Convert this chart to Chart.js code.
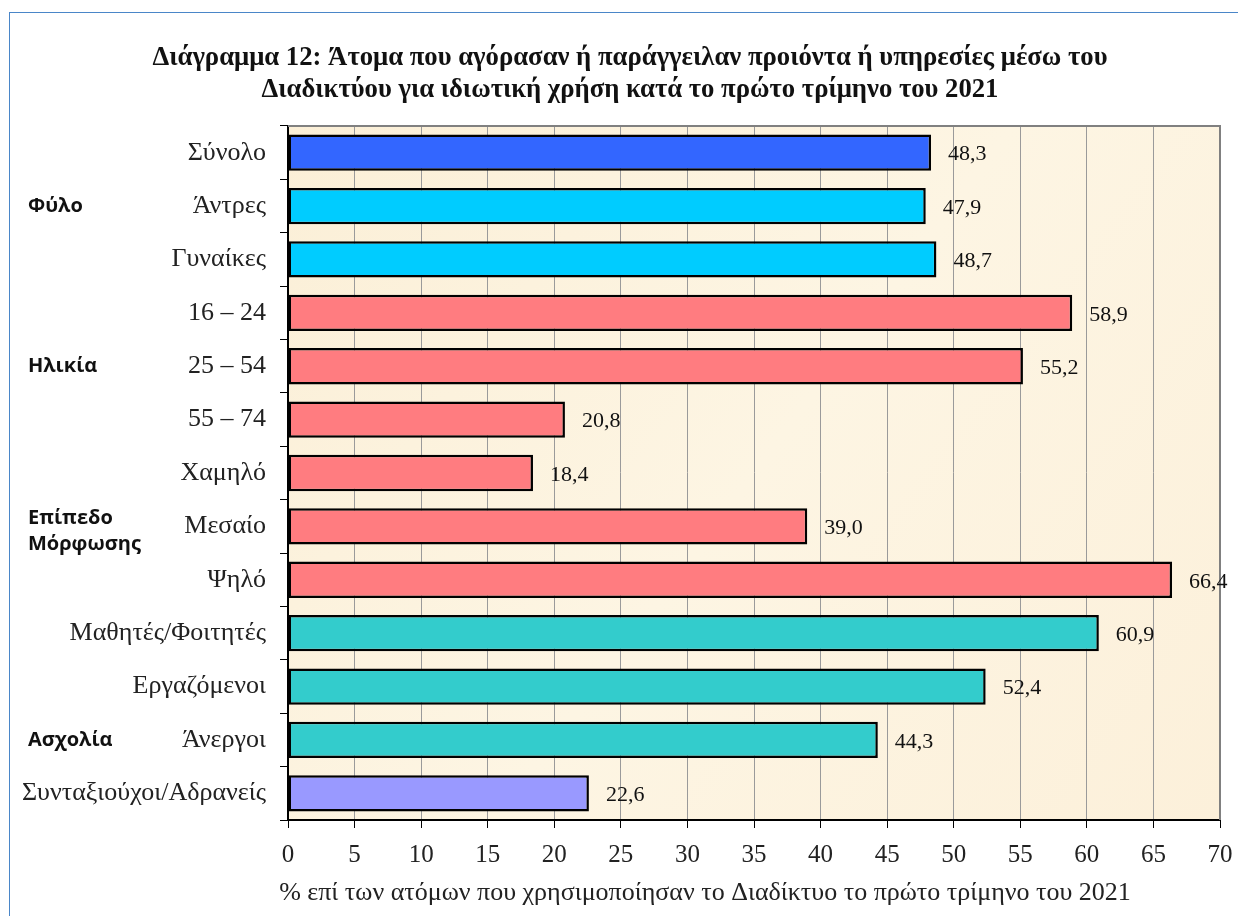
<!DOCTYPE html>
<html>
<head>
<meta charset="utf-8">
<script src="https://cdn.jsdelivr.net/npm/chart.js@4.4.1/dist/chart.umd.min.js"></script>
<style>
  body { margin: 0; background: #fff; overflow: hidden; }
  #frame { position: absolute; left: 9px; top: 12px; width: 1400px; height: 1000px;
           border-left: 1px solid #4a86c8; border-top: 1px solid #4a86c8; }
  #wrap { position: absolute; left: 0; top: 0; width: 1238px; height: 916px; }
</style>
</head>
<body>
<div id="frame"></div>
<div id="wrap"><canvas id="myChart" width="1238" height="916"></canvas></div>
<script>
const categories = ["Σύνολο", "Άντρες", "Γυναίκες", "16 – 24", "25 – 54", "55 – 74",
  "Χαμηλό", "Μεσαίο", "Ψηλό", "Μαθητές/Φοιτητές", "Εργαζόμενοι", "Άνεργοι",
  "Συνταξιούχοι/Αδρανείς"];
const values = [48.3, 47.9, 48.7, 58.9, 55.2, 20.8, 18.4, 39.0, 66.4, 60.9, 52.4, 44.3, 22.6];
const barColors = ["#3366FF", "#00CCFF", "#00CCFF", "#FF7C80", "#FF7C80", "#FF7C80",
  "#FF7C80", "#FF7C80", "#FF7C80", "#33CCCC", "#33CCCC", "#33CCCC", "#9999FF"];
// group labels: text lines and the category they sit beside
const groupNames = [["Φύλο"], ["Ηλικία"], ["Επίπεδο", "Μόρφωσης"], ["Ασχολία"]];
const groupRows = [1, 4, 7, 11];
const xTicks = [0, 5, 10, 15, 20, 25, 30, 35, 40, 45, 50, 55, 60, 65, 70];
const titleLines = ["Διάγραμμα 12: Άτομα που αγόρασαν ή παράγγειλαν προιόντα ή υπηρεσίες μέσω του",
  "Διαδικτύου για ιδιωτική χρήση κατά το πρώτο τρίμηνο του 2021"];
const xTitle = "% επί των ατόμων που χρησιμοποίησαν το Διαδίκτυο το πρώτο τρίμηνο του 2021";

const serif = "'Liberation Serif', 'Times New Roman', serif";

const extras = {
  id: "extras",
  beforeDraw(chart) {
    const { ctx, chartArea: a } = chart;
    ctx.save();
    const g = ctx.createLinearGradient(a.left, a.top, a.right, a.bottom);
    g.addColorStop(0, "#FBEFD7");
    g.addColorStop(0.5, "#FDF5E3");
    g.addColorStop(1, "#FCF0DA");
    ctx.fillStyle = g;
    ctx.fillRect(a.left, a.top, a.right - a.left, a.bottom - a.top);
    ctx.restore();
  },
  afterDraw(chart) {
    const { ctx, chartArea: a } = chart;
    const xs = chart.scales.x, ys = chart.scales.y;
    ctx.save();
    // top / right frame
    ctx.strokeStyle = "#808080";
    ctx.lineWidth = 2;
    ctx.beginPath();
    ctx.moveTo(a.left, a.top);
    ctx.lineTo(a.right, a.top);
    ctx.lineTo(a.right, a.bottom);
    ctx.stroke();
    // titles
    ctx.fillStyle = "#111";
    ctx.textAlign = "center";
    ctx.textBaseline = "middle";
    ctx.font = "bold 26.7px " + serif;
    titleLines.forEach((t, i) => ctx.fillText(t, 630, 58 + i * 32));
    ctx.fillStyle = "#222";
    ctx.font = "26px " + serif;
    ctx.fillText(xTitle, 705, 893);
    // value labels
    ctx.fillStyle = "#111";
    ctx.font = "22px " + serif;
    ctx.textAlign = "left";
    values.forEach((v, i) => {
      ctx.fillText(v.toFixed(1).replace(".", ","), xs.getPixelForValue(v) + 17, ys.getPixelForValue(i) + 2);
    });
    // group labels
    ctx.font = "bold 20px 'Open Sans', 'Noto Sans', sans-serif";
    groupNames.forEach((lines, k) => {
      const y = ys.getPixelForValue(groupRows[k]) + (lines.length > 1 ? 5 : 0);
      lines.forEach((t, j) => {
        ctx.fillText(t, 28, y + (j - (lines.length - 1) / 2) * 26);
      });
    });
    ctx.restore();
  }
};

new Chart("myChart", {
  type: "bar",
  data: {
    labels: categories,
    datasets: [{
      data: values,
      backgroundColor: barColors,
      borderColor: "#000",
      borderWidth: 2.5,
      borderSkipped: false,
      barPercentage: 0.68,
      categoryPercentage: 1
    }]
  },
  options: {
    indexAxis: "y",
    responsive: false,
    animation: false,
    devicePixelRatio: 1,
    layout: { padding: { left: 0, right: 18, top: 126, bottom: 0 } },
    plugins: {
      legend: { display: false },
      tooltip: { enabled: false },
      title: { display: false }
    },
    scales: {
      x: {
        min: 0, max: 70,
        afterBuildTicks: s => { s.ticks = xTicks.map(v => ({ value: v })); },
        afterFit: s => { s.height = 96; s.paddingRight = 0; s.paddingLeft = 0; },
        grid: { color: "#9a9a9a", lineWidth: 1, tickColor: "#000", tickLength: 8 },
        border: { color: "#000", width: 2 },
        ticks: { color: "#222", font: { family: serif, size: 25 }, padding: 12, maxRotation: 0, autoSkip: false }
      },
      y: {
        afterFit: s => { s.width = 288; },
        grid: { offset: true, drawOnChartArea: false, color: "#000", tickLength: 8 },
        border: { color: "#000", width: 2 },
        ticks: { color: "#222", font: { family: serif, size: 26 }, padding: 14 }
      }
    }
  },
  plugins: [extras]
});
</script>
</body>
</html>
